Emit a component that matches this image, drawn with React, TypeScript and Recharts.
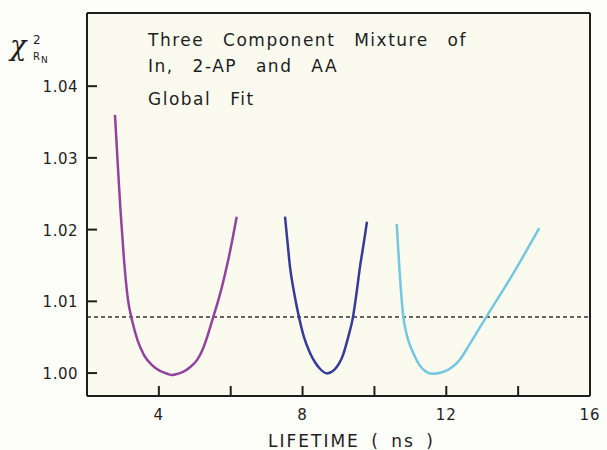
import React from 'react';
import { LineChart, Line, XAxis, YAxis, ReferenceLine } from 'recharts';

// lifetime (ns) vs reduced chi-square
const inLifetime = [2.779, 2.849, 2.932, 3.03, 3.141, 3.252, 3.406, 3.586, 3.809, 4.032, 4.254, 4.366, 4.477, 4.672, 4.867, 5.061, 5.228, 5.368, 5.507, 5.64, 5.76, 5.869, 5.966, 6.066, 6.166];
const inChi = [1.036, 1.0297, 1.0227, 1.0158, 1.0102, 1.0074, 1.0046, 1.0025, 1.0011, 1.0003, 0.99987, 0.99973, 0.99983, 1.00015, 1.0008, 1.0018, 1.0034, 1.0054, 1.0077, 1.0099, 1.0121, 1.0144, 1.0166, 1.0191, 1.0218];

const apLifetime = [7.511, 7.58, 7.65, 7.761, 7.9, 8.04, 8.207, 8.346, 8.485, 8.68, 8.874, 9.014, 9.125, 9.264, 9.403, 9.506, 9.598, 9.696, 9.793];
const apChi = [1.0218, 1.0183, 1.0148, 1.0113, 1.0078, 1.005, 1.0028, 1.0015, 1.0006, 0.99994, 1.0004, 1.0013, 1.0025, 1.0049, 1.0078, 1.0113, 1.0148, 1.0179, 1.0211];

const aaLifetime = [10.62, 10.692, 10.803, 10.906, 11.082, 11.268, 11.435, 11.594, 11.908, 12.159, 12.381, 12.66, 13.124, 13.865, 14.588];
const aaChi = [1.0208, 1.0148, 1.0079, 1.0052, 1.0028, 1.001, 1.0002, 0.9999, 1.00015, 1.0008, 1.0019, 1.0041, 1.0079, 1.0139, 1.0202];

const cutoff = 1.0078;
const xTicks = [4, 6, 8, 10, 12, 14, 16];
const yTicks = [1.0, 1.01, 1.02, 1.03, 1.04];
const xDomain = [2, 16];
const yDomain = [0.9968, 1.0502];

const titleLines = ['Three Component Mixture of', 'In, 2-AP and AA', 'Global Fit'];

const toPoints = (xs: number[], ys: number[]) => xs.map((x, i) => ({ x, y: ys[i] }));

const inData = toPoints(inLifetime, inChi);
const apData = toPoints(apLifetime, apChi);
const aaData = toPoints(aaLifetime, aaChi);

const font = '"DejaVu Sans", sans-serif';
const ink = '#1e1e1e';
const TICK = 10;

const XTick = (props: any) => {
  const { x, y, payload } = props;
  const v = payload.value;
  if (v % 4 !== 0) return <g />;
  return (
    <text x={x} y={y + 24} textAnchor="middle" fontFamily={font} fontSize={15} letterSpacing={1} fill={ink}>
      {v}
    </text>
  );
};

const YTick = (props: any) => {
  const { x, y, payload } = props;
  return (
    <text x={x - 9} y={y + 6} textAnchor="end" fontFamily={font} fontSize={15} letterSpacing={0.5} fill={ink}>
      {Number(payload.value).toFixed(2)}
    </text>
  );
};

// y label (chi-square), inward y tick marks and the in-plot annotation block
const YLabel = (props: any) => {
  const { viewBox } = props;
  const right = viewBox.x + viewBox.width;
  const toPx = (v: number) => viewBox.y + ((yDomain[1] - v) / (yDomain[1] - yDomain[0])) * viewBox.height;
  return (
    <g fontFamily={font} fill={ink}>
      {yTicks.map((t) => (
        <line key={t} x1={right} x2={right + TICK} y1={toPx(t)} y2={toPx(t)} stroke={ink} strokeWidth={2} />
      ))}
      <text x={10} y={55} fontSize={27} fontStyle="italic" fontFamily='"DejaVu Serif", serif'>χ</text>
      <text x={33} y={44} fontSize={12}>2</text>
      <text x={33} y={60} fontSize={10}>R</text>
      <text x={41} y={63} fontSize={9}>N</text>
      {titleLines.map((t, i) => (
        <text key={t} x={right + 61} y={viewBox.y + [33, 59, 92][i]} fontSize={17} letterSpacing={1.5} wordSpacing={12}>
          {t}
        </text>
      ))}
    </g>
  );
};

// x axis title plus inward x tick marks
const XLabel = (props: any) => {
  const { viewBox } = props;
  const cx = viewBox.x + viewBox.width / 2 + 13;
  const toPx = (v: number) => viewBox.x + ((v - xDomain[0]) / (xDomain[1] - xDomain[0])) * viewBox.width;
  return (
    <g>
      {xTicks.map((t) => (
        <line key={t} x1={toPx(t)} x2={toPx(t)} y1={viewBox.y} y2={viewBox.y - TICK} stroke={ink} strokeWidth={2} />
      ))}
      <text x={cx} y={viewBox.y + 51} textAnchor="middle" fontFamily={font} fontSize={17} letterSpacing={2} wordSpacing={4} fill={ink}>
        LIFETIME ( ns )
      </text>
    </g>
  );
};

export default function App() {
  return (
    <div style={{ position: 'absolute', left: 0, top: 0, width: 607, height: 450, background: '#fdfdf9' }}>
      {/* cream plot background sits behind the transparent svg */}
      <div style={{ position: 'absolute', left: 87, top: 13, width: 503, height: 383, background: '#fbfaef' }} />
      <div style={{ position: 'absolute', left: 0, top: 0 }}>
        <LineChart width={607} height={450} margin={{ top: 13, right: 17, bottom: 0, left: 0 }}>
          <XAxis
            type="number"
            dataKey="x"
            domain={xDomain}
            ticks={xTicks}
            allowDataOverflow
            axisLine={{ stroke: ink, strokeWidth: 2 }}
            tickLine={false}
            tickSize={0}
            tickMargin={0}
            tick={<XTick />}
            height={54}
            interval={0}
            label={<XLabel />}
          />
          <YAxis
            type="number"
            dataKey="y"
            domain={yDomain}
            ticks={yTicks}
            allowDataOverflow
            axisLine={{ stroke: ink, strokeWidth: 2 }}
            tickLine={false}
            tickSize={0}
            tickMargin={0}
            tick={<YTick />}
            width={87}
            interval={0}
            label={<YLabel />}
          />
          <ReferenceLine x={xDomain[1]} stroke={ink} strokeWidth={2} />
          <ReferenceLine y={yDomain[1]} stroke={ink} strokeWidth={2} />
          <ReferenceLine y={cutoff} stroke="#333" strokeWidth={1.5} strokeDasharray="4 3" />
          <Line data={inData} dataKey="y" type="monotone" stroke="#93429f" strokeWidth={2.5} dot={false} isAnimationActive={false} />
          <Line data={apData} dataKey="y" type="monotone" stroke="#363a9b" strokeWidth={2.5} dot={false} isAnimationActive={false} />
          <Line data={aaData} dataKey="y" type="monotone" stroke="#74c6e1" strokeWidth={2.5} dot={false} isAnimationActive={false} />
        </LineChart>
      </div>
    </div>
  );
}
